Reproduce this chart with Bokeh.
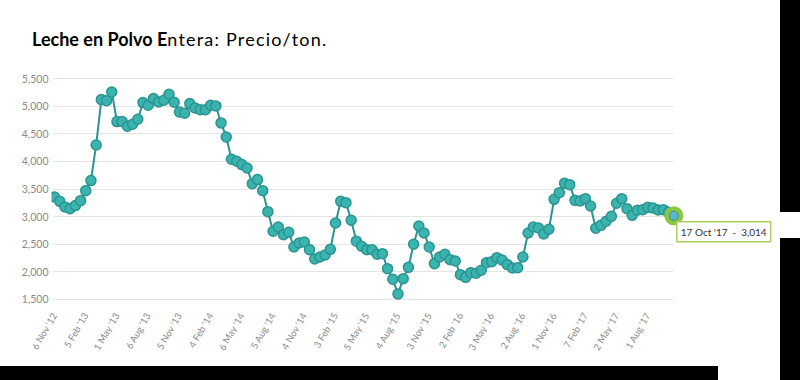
from bokeh.plotting import figure
from bokeh.models import FixedTicker, NumeralTickFormatter, Label, Range1d, Div, ColumnDataSource
from bokeh.layouts import row, column
from bokeh.embed import file_html
from bokeh.resources import INLINE
from math import pi

# ---- data (GDT whole milk powder, USD/ton, fortnightly auctions) ----
prices = [3355, 3277, 3175, 3144, 3199, 3289, 3470, 3652, 4298, 5120,
          5101, 5258, 4721, 4721, 4636, 4673, 4763, 5065, 5017, 5138,
          5077, 5107, 5216, 5071, 4896, 4872, 5047, 4969, 4938, 4938,
          5017, 5005, 4697, 4443, 4038, 4002, 3942, 3881, 3597, 3670,
          3470, 3090, 2734, 2812, 2673, 2716, 2450, 2522, 2540, 2401,
          2232, 2268, 2305, 2407, 2885, 3277, 3253, 2933, 2555, 2462,
          2400, 2401, 2317, 2329, 2057, 1864, 1600, 1876, 2081, 2498,
          2830, 2703, 2450, 2148, 2268, 2317, 2220, 2196, 1948, 1900,
          1985, 1973, 2027, 2166, 2184, 2256, 2214, 2130, 2069, 2075,
          2268, 2703, 2812, 2794, 2685, 2770, 3313, 3434, 3603, 3579,
          3295, 3283, 3325, 3193, 2788, 2842, 2915, 3005, 3241, 3325,
          3144, 3023, 3114, 3126, 3168, 3156, 3120, 3126, 3080, 3014]
auction = list(range(len(prices)))
tick_index = [0, 6, 12, 18, 24, 30, 36, 42, 48, 54, 60, 66, 72, 78, 84, 90, 96, 102, 108, 114]
tick_labels = ["6 Nov '12", "5 Feb '13", "1 May '13", "6 Aug '13", "5 Nov '13",
               "4 Feb '14", "6 May '14", "5 Aug '14", "4 Nov '14", "3 Feb '15",
               "5 May '15", "4 Aug '15", "3 Nov '15", "2 Feb '16", "3 May '16",
               "2 Aug '16", "1 Nov '16", "7 Feb '17", "2 May '17", "1 Aug '17"]
y_ticks = [1500, 2000, 2500, 3000, 3500, 4000, 4500, 5000, 5500]
last_date = "17 Oct '17"
title_bold = "Leche en Polvo E"
title_rest = "ntera: Precio/ton."

TEAL = "#3BB3AE"
TEAL_DARK = "#2A9590"
GRAY = "#8a8a8a"

src = ColumnDataSource(dict(x=auction, y=prices))
last = ColumnDataSource(dict(x=auction[-1:], y=prices[-1:]))

p = figure(width=780, height=314, x_range=Range1d(-0.58, 139.5), y_range=Range1d(1480, 5520),
           output_backend="svg", toolbar_location=None,
           min_border_left=51, min_border_right=0, min_border_top=25, min_border_bottom=66)
p.outline_line_color = None
p.background_fill_color = "white"
p.border_fill_color = "white"

p.xgrid.visible = False
p.ygrid.grid_line_color = "#e4e4e4"
p.ygrid.grid_line_width = 1
p.ygrid.cross_bounds = (auction[0] - 0.2, auction[-1])

p.yaxis.ticker = FixedTicker(ticks=y_ticks)
p.yaxis.formatter = NumeralTickFormatter(format="0,0")
p.xaxis.ticker = FixedTicker(ticks=tick_index)
p.xaxis.major_label_overrides = {i: s for i, s in zip(tick_index, tick_labels)}
p.xaxis.major_label_orientation = pi / 3
for ax in (p.xaxis, p.yaxis):
    ax.axis_line_color = None
    ax.major_tick_line_color = None
    ax.minor_tick_line_color = None
    ax.major_tick_out = 0
    ax.major_tick_in = 0
    ax.major_label_text_font = "Lato"
    ax.major_label_text_color = GRAY
p.yaxis.major_label_text_font_size = "10.5px"
p.yaxis.major_label_standoff = 3
p.xaxis.major_label_text_font_size = "9.5px"
p.xaxis.major_label_standoff = 13

p.line("x", "y", source=src, line_color=TEAL_DARK, line_width=2)
p.scatter("x", "y", source=src, size=10, fill_color=TEAL, line_color=TEAL_DARK, line_width=1.5)
p.scatter("x", "y", source=last, size=19, fill_color="#8CC63F", line_color=None)
p.scatter("x", "y", source=last, size=9, fill_color="#5AB6D2", line_color=TEAL_DARK, line_width=1)

tip = Label(x=auction[-1], y=prices[-1], x_offset=3, y_offset=-6,
            text=f"{last_date}\u2002-\u2002{prices[-1]:,}", text_font="Lato", text_font_size="10px",
            text_color="#333333", text_align="left", text_baseline="top",
            background_fill_color="white", border_line_color="#A8D05A", border_line_width=1.5,
            padding=4)
p.add_layout(tip)

title_html = (f'<div style="font-family:Lato;font-size:18px;line-height:22px;color:black;'
              f'white-space:nowrap;padding:28px 0 0 32px;margin:0">'
              f'<b>{title_bold}</b><span style="letter-spacing:1.2px">{title_rest}</span></div>')
title_div = Div(text=title_html, width=780, height=52, margin=0)


def box(w, h, color):
    return Div(width=w, height=h, margin=0, styles={"background-color": color})


left_col = column(title_div, p, spacing=0)
right_col = column(box(20, 212, "black"), box(20, 26, "white"), box(20, 128, "black"), spacing=0)
top = row(left_col, right_col, spacing=0)
bottom = row(box(718, 14, "black"), box(62, 14, "white"), box(20, 14, "black"), spacing=0)
layout = column(top, bottom, spacing=0)

open("out.html", "w").write(file_html(layout, INLINE))
